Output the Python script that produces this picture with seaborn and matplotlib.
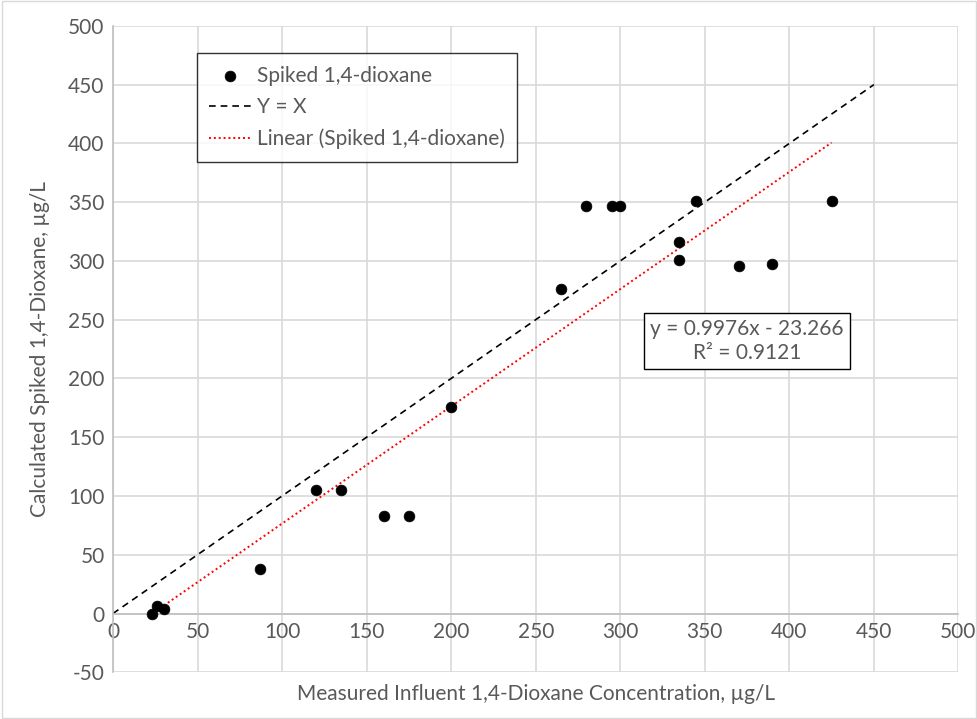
import numpy as np
import pandas as pd
import matplotlib
matplotlib.use("Agg")
import matplotlib.pyplot as plt
import seaborn as sns

# measured influent vs calculated spiked 1,4-dioxane (ug/L)
measured = [23, 26, 30, 87, 120, 135, 160, 175, 200, 265, 280, 295, 300,
            335, 335, 345, 370, 390, 425]
calculated = [0, 6, 4, 38, 105, 105, 83, 83, 176, 276, 347, 347, 347,
              316, 301, 351, 296, 297, 351]

# reference line Y = X
ref_x = [0, 450]

# Excel trendline
slope = 0.9976
intercept = -23.266
r2 = 0.9121

df = pd.DataFrame({"measured": measured, "calculated": calculated})

sns.set_style("white")
plt.rcParams["font.family"] = ["Lato", "DejaVu Sans"]
plt.rcParams["axes.unicode_minus"] = False

grey = "#595959"
gridc = "#d9d9d9"
fs = 15

fig = plt.figure(figsize=(9.78, 7.19), dpi=100)
ax = fig.add_axes([0.1155, 0.065, 0.8645, 0.899])

ax.plot(ref_x, ref_x, ls=(0, (4, 3)), color="black", lw=1.2, label="Y = X", zorder=2)
tx = np.array([df["measured"].min(), df["measured"].max()])
ax.plot(tx, slope * tx + intercept, ls=(0, (1, 1.5)), color="red", lw=1.4,
        label="Linear (Spiked 1,4-dioxane)", zorder=3)
sns.scatterplot(data=df, x="measured", y="calculated", ax=ax, color="black",
                s=60, edgecolor="black", linewidth=0.5, zorder=4,
                label="Spiked 1,4-dioxane")

ax.set_xlim(0, 500)
ax.set_ylim(-50, 500)
ax.set_xticks(np.arange(0, 501, 50))
ax.set_yticks(np.arange(-50, 501, 50))
ax.grid(True, color=gridc, lw=1.2)
ax.set_axisbelow(True)

for s in ["top", "right"]:
    ax.spines[s].set_visible(False)
ax.spines["bottom"].set_position(("data", 0))
ax.spines["bottom"].set_color("#bfbfbf")
ax.spines["left"].set_color("#bfbfbf")
ax.spines["bottom"].set_linewidth(1.2)
ax.spines["left"].set_linewidth(1.2)
ax.tick_params(axis="both", colors=grey, labelsize=fs, length=0, pad=6)

ax.set_xlabel("Measured Influent 1,4-Dioxane Concentration, µg/L", color=grey, fontsize=fs)
ax.set_ylabel("Calculated Spiked 1,4-Dioxane, µg/L", color=grey, fontsize=fs)
ax.xaxis.set_label_coords(0.5, -0.018)
ax.yaxis.set_label_coords(-0.075, 0.5)

handles, labels = ax.get_legend_handles_labels()
order = [labels.index("Spiked 1,4-dioxane"), labels.index("Y = X"),
         labels.index("Linear (Spiked 1,4-dioxane)")]
leg = ax.legend([handles[i] for i in order], [labels[i] for i in order],
                loc="upper left", bbox_to_anchor=(0.099, 0.958), borderaxespad=0,
                fontsize=fs, frameon=True, fancybox=False, edgecolor="black",
                handlelength=2.0, handletextpad=0.3, labelspacing=0.55,
                borderpad=0.6)
leg.get_frame().set_linewidth(1.0)
for t in leg.get_texts():
    t.set_color(grey)

ax.text(375, 232, f"y = {slope}x - {abs(intercept)}\nR² = {r2}", ha="center",
        va="center", fontsize=fs, color=grey, linespacing=1.25,
        bbox=dict(boxstyle="square,pad=0.3", fc="white", ec="black", lw=1.0))

fig.patches.append(plt.Rectangle((0.002, 0.002), 0.996, 0.996, transform=fig.transFigure,
                                 fill=False, ec="#d9d9d9", lw=1.0))

fig.savefig("out.png", dpi=100)
